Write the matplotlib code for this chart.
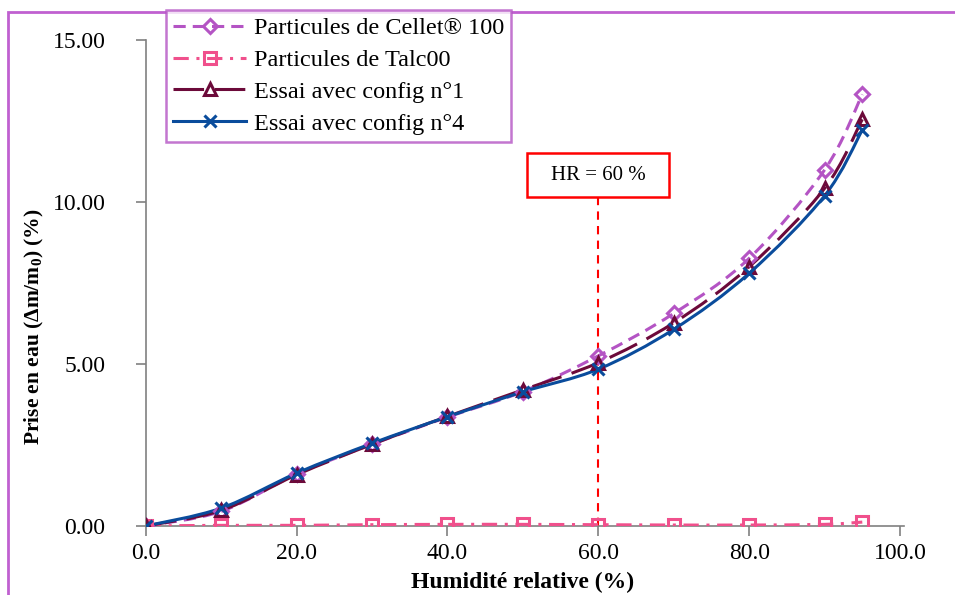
import matplotlib
matplotlib.use('Agg')
import matplotlib.pyplot as plt
from matplotlib.path import Path
from matplotlib.patches import PathPatch, Rectangle
from matplotlib.lines import Line2D

plt.rcParams['font.family'] = ['Liberation Serif', 'DejaVu Serif']
plt.rcParams['mathtext.fontset'] = 'custom'
plt.rcParams['mathtext.rm'] = 'Liberation Serif'
plt.rcParams['mathtext.bf'] = 'Liberation Serif:bold'

humidite = [0, 10, 20, 30, 40, 50, 60, 70, 80, 90, 95]
cellet = [0.0, 0.45, 1.60, 2.52, 3.36, 4.15, 5.25, 6.56, 8.26, 10.99, 13.32]
talc = [0.0, 0.02, 0.02, 0.04, 0.05, 0.05, 0.04, 0.03, 0.03, 0.05, 0.12]
config1 = [0.0, 0.48, 1.58, 2.52, 3.38, 4.20, 5.04, 6.27, 8.00, 10.42, 12.55]
config4 = [0.0, 0.55, 1.63, 2.55, 3.37, 4.14, 4.84, 6.07, 7.80, 10.19, 12.22]
labels = ['Particules de Cellet® 100', 'Particules de Talc00',
          'Essai avec config n°1', 'Essai avec config n°4']
hr_ligne = 60


def smooth_path(x, y):
    # bezier segments through the points, like Excel's smoothed lines
    verts = [(x[0], y[0])]
    codes = [Path.MOVETO]
    n = len(x)
    for i in range(n - 1):
        x0, y0 = (x[i - 1], y[i - 1]) if i > 0 else (x[i], y[i])
        x3, y3 = (x[i + 2], y[i + 2]) if i + 2 < n else (x[i + 1], y[i + 1])
        c1 = (x[i] + (x[i + 1] - x0) / 6, y[i] + (y[i + 1] - y0) / 6)
        c2 = (x[i + 1] - (x3 - x[i]) / 6, y[i + 1] - (y3 - y[i]) / 6)
        verts += [c1, c2, (x[i + 1], y[i + 1])]
        codes += [Path.CURVE4] * 3
    return Path(verts, codes)


fig = plt.figure(figsize=(9.55, 5.95), dpi=100)
ax = fig.add_axes([0.1526, 0.116, 0.7898, 0.8168])

styles = [
    dict(color='#B454C4', ls=(0, (4, 2.3)), marker='D', ms=7, lw=2.2),
    dict(color='#F0508C', ls=(0, (5, 2.5, 1, 2.5)), marker='s', ms=8, lw=2.2),
    dict(color='#6C0A3A', ls=(0, (10, 3.5)), marker='^', ms=8, lw=2.2),
    dict(color='#0A4C9C', ls='-', marker='x', ms=9, lw=2.2),
]
series = [cellet, talc, config1, config4]

handles = []
for vals, st, lab in zip(series, styles, labels):
    p = PathPatch(smooth_path(humidite, vals), fill=False, edgecolor=st['color'],
                  lw=st['lw'], linestyle=st['ls'], zorder=3)
    ax.add_patch(p)
    mfc = 'none' if st['marker'] != 'x' else st['color']
    ax.plot(humidite, vals, ls='none', marker=st['marker'], ms=st['ms'],
            mfc=mfc, mec=st['color'], mew=2.2, zorder=4)
    handles.append(Line2D([], [], color=st['color'], ls=st['ls'], lw=st['lw'],
                          marker=st['marker'], ms=st['ms'], mfc=mfc,
                          mec=st['color'], mew=2.2))

ax.set_xlim(0, 100)
ax.set_ylim(0, 15)
ax.set_xticks([0, 20, 40, 60, 80, 100])
ax.set_xticklabels(['0.0', '20.0', '40.0', '60.0', '80.0', '100.0'])
ax.set_yticks([0, 5, 10, 15])
ax.set_yticklabels(['0.00', '5.00', '10.00', '15.00'])
ax.tick_params(axis='both', labelsize=17, color='#808080', length=7, width=1.2)
ax.tick_params(axis='y', pad=22)
ax.tick_params(axis='x', pad=5)
for s in ['top', 'right']:
    ax.spines[s].set_visible(False)
for s in ['left', 'bottom']:
    ax.spines[s].set_color('#808080')
    ax.spines[s].set_linewidth(1.2)
ax.spines['bottom'].set_bounds(0, 100.5)

ax.set_xlabel('Humidité relative (%)', fontsize=17, fontweight='bold', labelpad=6)
ax.set_ylabel(r'Prise en eau ($\mathbf{\Delta m/m_0}$) (%)', fontsize=15.5,
              fontweight='bold')
ax.yaxis.set_label_coords(-0.132, 0.41)

# ligne HR = 60 %
ax.plot([hr_ligne, hr_ligne], [0, 10.15], color='red', ls=(0, (4, 3)), lw=1.5, zorder=2)
ax.add_patch(Rectangle((hr_ligne - 9.4, 10.15), 18.8, 1.36, fc='white', ec='red',
                       lw=1.8, zorder=5))
ax.text(hr_ligne, 10.83, 'HR = 60 %', ha='center', va='center', fontsize=15, zorder=6)

leg = fig.legend(handles, labels, loc='upper left', bbox_to_anchor=(0.174, 0.983),
                 fontsize=17.5, frameon=True, fancybox=False, handlelength=3.0,
                 borderpad=0.3, labelspacing=0.4, handletextpad=0.3,
                 borderaxespad=0)
leg.get_frame().set_edgecolor('#B454C4')
leg.get_frame().set_linewidth(1.8)

fig.patches.append(Rectangle((8 / 955, -0.1), 1.2, 1 - 12 / 595 + 0.1,
                             transform=fig.transFigure, fill=False,
                             ec='#C060D0', lw=2))

fig.savefig('out.png', dpi=100)
